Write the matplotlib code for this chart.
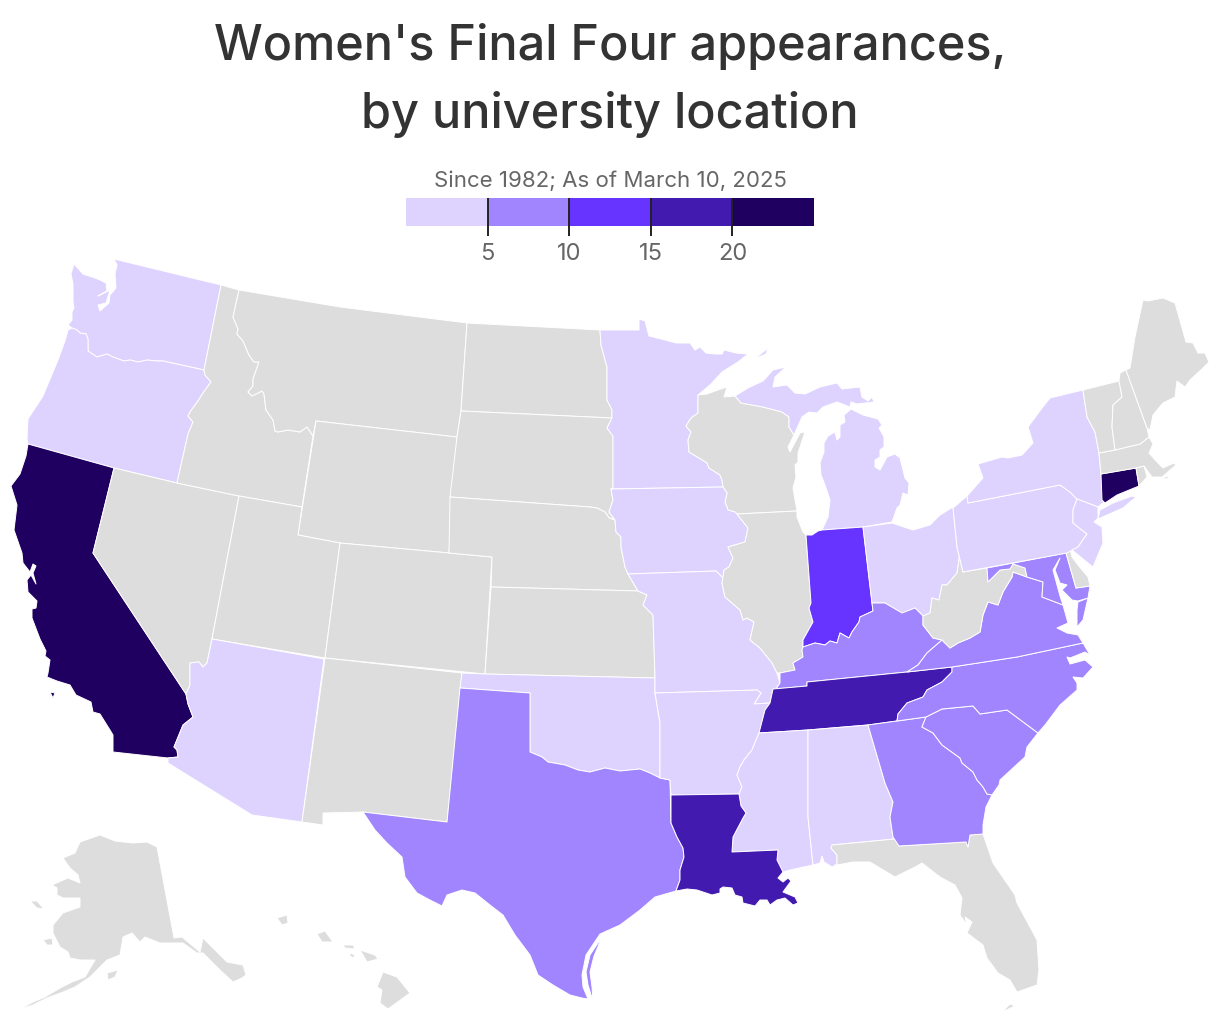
import matplotlib
matplotlib.use("Agg")
import matplotlib.pyplot as plt
from matplotlib.colors import BoundaryNorm, ListedColormap

# appearances by state, values estimated from the colour bins
state_names = ['CA', 'CT', 'TN', 'LA', 'IN', 'TX', 'GA', 'SC', 'NC', 'VA', 'MD', 'KY',
               'WA', 'OR', 'AZ', 'OK', 'AR', 'MO', 'IA', 'MN', 'MI', 'OH', 'PA', 'NY',
               'NJ', 'MS', 'AL']
state_values = [22, 24, 18, 16, 11, 8, 7, 7, 9, 8, 6, 6,
                2, 3, 2, 3, 3, 3, 3, 2, 3, 4, 4, 2,
                4, 3, 3]

legend_bins = [0, 5, 10, 15, 20, 25]
legend_ticks = [5, 10, 15, 20]
colors = ['#ded3ff', '#a185ff', '#6633ff', '#421ab0', '#1f0060']
grey = '#dddddd'

# outlines
WA = [(114,259),(117,265),(115,274),(116,288),(110,295),(109,303),(100,311),(98,305),(106,303),(110,290),(98,296),(107,291),(106,283),(100,280),(95,278),(83,274),(74,264),(71,274),(73,284),(73,302),(74,308),(72,312),(72,320),(68,325),(72,328),(77,330),(80,333),(86,334),(88,339),(88,351),(97,357),(107,354),(113,357),(124,361),(130,360),(138,362),(147,360),(157,361),(163,361),(204,370),(221,285)]
OR = [(72,328),(77,330),(80,333),(86,334),(88,339),(88,351),(97,357),(107,354),(113,357),(124,361),(130,360),(138,362),(147,360),(157,361),(163,361),(204,370),(205,375),(211,382),(203,393),(198,401),(190,412),(188,416),(193,422),(188,434),(177,483),(114,468),(28,444),(27,439),(28,419),(43,396),(58,360),(65,341),(68,330)]
CA = [(28,444),(26,456),(20,474),(11,486),(17,505),(14,530),(22,553),(23,563),(30,572),(33,564),(36,566),(33,573),(36,584),(31,575),(27,580),(28,592),(37,601),(36,608),(32,609),(32,618),(40,639),(46,651),(45,656),(50,660),(48,673),(47,677),(57,681),(70,685),(76,695),(91,702),(93,712),(100,714),(110,730),(113,735),(113,752),(168,758),(178,757),(177,750),(174,747),(183,725),(193,717),(188,704),(186,694),(93,553),(114,468)]
CA_isl = [(50,692),(55,693),(53,698)]
NV = [(114,468),(177,483),(239,496),(212,639),(207,663),(203,667),(199,662),(190,663),(190,685),(186,694),(93,553)]
ID = [(221,285),(239,290),(233,317),(238,329),(237,334),(243,341),(249,355),(254,362),(259,362),(253,379),(253,386),(248,392),(252,396),(262,391),(264,394),(266,410),(273,420),(275,431),(278,432),(288,430),(300,432),(307,427),(313,436),(302,507),(239,496),(177,483),(188,434),(193,422),(188,416),(190,412),(198,401),(203,393),(211,382),(205,375),(204,370)]
MT = [(239,290),(340,307),(467,323),(461,411),(457,437),(316,421),(313,436),(307,427),(300,432),(288,430),(278,432),(275,431),(273,420),(266,410),(264,394),(262,391),(252,396),(248,392),(253,386),(253,379),(259,362),(254,362),(249,355),(243,341),(237,334),(238,329),(233,317)]
WY = [(316,421),(457,437),(449,553),(340,543),(298,535)]
UT = [(239,496),(302,507),(298,535),(340,543),(325,658),(212,639)]
AZ = [(212,639),(324,659),(302,822),(252,815),(168,763),(168,758),(178,757),(177,750),(174,747),(183,725),(193,717),(188,704),(186,694),(190,685),(190,663),(199,662),(203,667),(207,663)]
CO = [(340,543),(449,553),(492,557),(485,674),(325,658)]
NM = [(325,658),(462,673),(447,822),(363,812),(323,813),(323,825),(302,822)]
ND = [(467,323),(600,330),(601,345),(607,367),(607,400),(612,410),(612,418),(461,411)]
SD = [(461,411),(612,418),(607,428),(613,436),(613,488),(611,489),(613,500),(609,512),(614,519),(609,518),(605,512),(597,508),(590,507),(450,497),(457,437)]
NE = [(450,497),(590,507),(597,508),(605,512),(609,518),(615,520),(616,532),(621,537),(621,547),(625,567),(628,574),(638,591),(491,587),(492,557),(449,553)]
KS = [(491,587),(638,591),(647,595),(643,605),(653,615),(655,678),(485,674)]
OK = [(462,673),(485,674),(655,678),(655,693),(660,723),(660,778),(650,773),(640,769),(620,771),(605,768),(590,772),(578,770),(565,765),(548,762),(542,757),(530,752),(530,693),(460,688)]
TX = [(460,688),(530,693),(530,752),(542,757),(548,762),(565,765),(578,770),(590,772),(605,768),(620,771),(640,769),(650,773),(660,778),(670,780),(671,823),(677,837),(683,848),(684,857),(680,870),(680,880),(676,891),(655,897),(640,910),(620,925),(600,934),(586,955),(582,975),(583,987),(588,999),(582,998),(570,995),(553,985),(538,975),(530,955),(515,935),(503,915),(490,905),(475,893),(462,890),(447,895),(442,906),(430,900),(417,893),(405,877),(402,857),(387,843),(375,830),(363,812),(447,822)]
TX_isle = [(593,1001),(588,985),(586,972),(590,955),(602,937),(594,956),(590,972),(592,987)]
MN = [(600,330),(639,330),(639,319),(645,321),(649,336),(665,340),(676,343),(690,343),(695,350),(700,347),(706,353),(715,354),(722,354),(724,350),(736,353),(748,354),(738,362),(722,372),(710,385),(698,395),(698,413),(691,418),(686,426),(691,432),(688,440),(689,452),(699,458),(707,463),(709,468),(720,475),(722,480),(723,487),(611,489),(613,488),(613,436),(607,428),(612,418),(612,410),(607,400),(607,367),(601,345)]
WI = [(698,395),(707,394),(718,390),(727,387),(724,397),(735,396),(741,403),(763,407),(782,412),(789,417),(789,427),(794,435),(788,447),(790,452),(800,433),(805,432),(798,453),(798,462),(795,465),(796,477),(793,488),(797,511),(737,514),(735,512),(728,510),(725,502),(727,493),(723,487),(722,480),(720,475),(709,468),(707,463),(699,458),(689,452),(688,440),(691,432),(686,426),(691,418),(698,413)]
MI_up = [(735,396),(748,388),(763,381),(773,370),(786,367),(775,377),(773,387),(787,385),(795,393),(805,394),(820,387),(837,383),(842,389),(860,387),(862,397),(868,401),(872,397),(874,402),(857,404),(851,402),(850,407),(837,402),(823,407),(817,413),(809,412),(802,417),(794,435),(789,427),(789,417),(782,412),(763,407),(741,403)]
MI_lp = [(851,409),(863,415),(878,419),(882,425),(879,428),(884,437),(884,447),(880,450),(880,457),(875,460),(875,467),(880,470),(887,457),(895,454),(900,458),(905,478),(909,483),(908,495),(903,493),(900,505),(897,508),(892,522),(863,527),(822,530),(828,517),(830,500),(825,485),(821,475),(820,463),(824,452),(824,443),(828,436),(835,432),(837,440),(840,437),(840,425),(845,422),(844,415)]
MI_isl = [(757,357),(768,348),(766,354),(757,358)]
IA = [(611,489),(723,487),(727,493),(725,502),(728,510),(735,512),(737,514),(748,528),(745,542),(728,547),(733,558),(729,567),(724,570),(723,578),(716,571),(628,574),(625,567),(621,547),(621,537),(616,532),(615,520),(609,512),(613,500)]
MO = [(628,574),(716,571),(723,578),(722,583),(725,597),(740,610),(743,620),(747,618),(754,622),(750,640),(760,648),(772,663),(777,673),(780,683),(776,689),(773,689),(770,703),(754,704),(761,693),(757,690),(655,693),(655,678),(653,615),(643,605),(647,595),(638,591)]
AR = [(655,693),(757,690),(761,693),(754,704),(770,703),(765,710),(760,730),(759,733),(752,750),(744,760),(740,767),(737,775),(742,787),(739,794),(671,795),(670,780),(660,778),(660,723)]
IL = [(737,514),(797,511),(797,517),(803,532),(806,535),(811,603),(809,608),(813,622),(803,640),(803,650),(802,650),(803,657),(793,663),(795,670),(780,673),(777,673),(772,663),(760,648),(750,640),(754,622),(747,618),(743,620),(740,610),(725,597),(722,583),(724,570),(729,567),(733,558),(728,547),(745,542),(748,528)]
IN = [(822,530),(863,527),(872,603),(873,611),(860,617),(859,622),(852,632),(849,638),(840,633),(837,643),(830,641),(825,645),(815,643),(803,647),(803,640),(813,622),(809,608),(811,603),(806,535),(812,535),(818,531)]
OH = [(863,527),(892,523),(913,530),(930,525),(940,515),(953,507),(957,547),(960,553),(957,573),(947,585),(942,585),(939,600),(932,598),(930,613),(923,616),(915,608),(902,613),(885,603),(872,603)]
KY = [(803,647),(815,643),(825,645),(830,641),(837,643),(840,633),(849,638),(852,632),(859,622),(860,617),(873,611),(872,603),(885,603),(902,613),(915,608),(923,616),(923,625),(933,638),(942,640),(927,653),(918,665),(907,672),(807,682),(807,686),(776,689),(780,683),(780,673),(795,670),(793,663),(803,657),(802,650)]
TN = [(952,667),(952,672),(942,682),(927,690),(923,697),(907,703),(898,714),(897,721),(868,725),(808,730),(759,733),(765,710),(770,703),(773,689),(807,686),(807,682),(907,672)]
MS = [(759,733),(808,730),(808,817),(813,865),(790,870),(783,872),(777,860),(778,850),(732,852),(733,837),(743,818),(746,813),(741,806),(739,794),(742,787),(737,775),(740,767),(744,760),(752,750)]
LA = [(671,795),(739,794),(741,806),(746,813),(743,818),(733,837),(732,852),(778,850),(777,860),(783,872),(778,878),(783,882),(788,878),(791,881),(783,892),(795,897),(798,903),(793,905),(785,898),(777,900),(770,905),(767,900),(760,900),(755,906),(743,903),(742,897),(735,895),(732,888),(723,887),(720,889),(720,893),(712,895),(697,890),(687,889),(676,891),(680,880),(680,870),(684,857),(683,848),(677,837),(671,823)]
AL = [(808,730),(868,725),(885,783),(893,802),(890,817),(893,837),(895,839),(832,845),(831,848),(837,855),(837,864),(832,867),(824,862),(822,856),(820,863),(813,865),(808,817)]
FL = [(832,845),(895,839),(899,846),(966,842),(968,847),(970,835),(983,834),(993,863),(1015,895),(1017,903),(1037,940),(1039,970),(1037,985),(1017,992),(1010,980),(998,973),(987,958),(983,945),(967,933),(972,922),(965,917),(967,925),(960,915),(962,898),(955,885),(940,877),(922,863),(915,867),(895,877),(870,862),(853,862),(837,865),(837,855),(831,848)]
FL_keys = [(1002,1012),(1010,1004),(1015,1006)]
GA = [(868,725),(897,721),(926,717),(922,727),(933,733),(942,745),(960,758),(962,763),(973,772),(977,780),(983,787),(987,794),(992,795),(986,807),(983,825),(983,834),(970,835),(968,847),(966,842),(899,846),(893,837),(890,817),(893,802),(885,783)]
SC = [(926,717),(942,709),(973,706),(980,714),(1007,710),(1038,733),(1027,747),(1025,757),(1013,768),(1000,780),(999,785),(992,795),(987,794),(983,787),(977,780),(973,772),(962,763),(960,758),(942,745),(933,733),(922,727)]
NC = [(897,721),(898,714),(907,703),(923,697),(927,690),(942,682),(952,672),(952,667),(1017,657),(1083,643),(1090,655),(1085,652),(1070,658),(1067,657),(1070,664),(1085,660),(1093,667),(1083,678),(1073,677),(1077,683),(1077,690),(1060,705),(1045,725),(1038,733),(1007,710),(980,714),(973,706),(942,709),(926,717)]
VA = [(907,672),(918,665),(927,653),(942,640),(950,648),(958,643),(970,638),(980,632),(983,615),(988,602),(998,605),(1003,592),(1012,577),(1013,572),(1027,577),(1043,582),(1042,597),(1050,600),(1063,605),(1068,623),(1057,628),(1067,633),(1078,635),(1083,643),(1017,657),(952,667)]
VA_shore = [(1078,602),(1088,598),(1083,620),(1077,627),(1077,610)]
WV = [(963,572),(987,568),(988,582),(1000,570),(1010,569),(1013,564),(1025,568),(1027,577),(1013,572),(1012,577),(1003,592),(998,605),(988,602),(983,615),(980,632),(970,638),(958,643),(950,648),(942,640),(933,638),(923,625),(923,616),(930,613),(932,598),(939,600),(942,585),(947,585),(957,573),(960,553),(957,547)]
MD = [(987,568),(1066,553),(1076,588),(1090,586),(1088,598),(1078,601),(1072,600),(1062,590),(1067,585),(1060,583),(1055,570),(1060,558),(1053,570),(1057,585),(1060,596),(1063,605),(1050,600),(1042,597),(1043,582),(1027,577),(1025,568),(1013,564),(1010,569),(1000,570),(988,582)]
DE = [(1066,553),(1070,548),(1072,557),(1078,565),(1088,577),(1090,586),(1076,588)]
PA = [(953,508),(967,496),(968,503),(1060,485),(1070,492),(1077,499),(1073,510),(1073,523),(1087,534),(1078,547),(1067,553),(963,572),(957,547)]
NY = [(968,503),(1060,485),(1070,492),(1077,499),(1098,507),(1103,503),(1105,500),(1101,475),(1099,453),(1095,432),(1087,417),(1083,390),(1050,398),(1042,408),(1028,427),(1033,443),(1022,455),(1008,458),(1002,457),(978,464),(983,478),(967,496)]
NY_li = [(1100,510),(1113,503),(1132,496),(1136,497),(1123,508),(1098,519)]
NJ = [(1077,499),(1098,507),(1098,518),(1094,522),(1102,527),(1103,543),(1093,567),(1088,563),(1072,550),(1078,547),(1087,534),(1073,523),(1073,510)]
CT = [(1101,474),(1136,468),(1139,486),(1117,495),(1105,503),(1102,500)]
RI = [(1136,468),(1144,466),(1147,477),(1139,486)]
MA = [(1099,453),(1115,450),(1140,444),(1149,437),(1153,444),(1149,453),(1157,462),(1163,468),(1174,463),(1176,465),(1162,477),(1152,477),(1144,466),(1136,468),(1101,474)]
MA_isl = [(1162,478),(1168,476),(1168,479)]
VT = [(1083,390),(1119,381),(1122,397),(1113,405),(1112,427),(1115,450),(1099,453),(1095,432),(1087,417)]
NH = [(1119,381),(1120,373),(1126,370),(1147,428),(1149,437),(1140,444),(1115,450),(1112,427),(1113,405),(1122,397)]
ME = [(1126,370),(1130,368),(1135,337),(1143,300),(1148,301),(1163,298),(1175,303),(1186,342),(1193,343),(1198,353),(1205,353),(1209,362),(1203,368),(1190,380),(1185,387),(1177,381),(1175,397),(1163,403),(1153,415),(1150,430),(1147,428)]
AK = [(157,847),(174,938),(182,937),(200,952),(203,938),(227,962),(243,965),(246,975),(242,978),(233,982),(220,970),(203,953),(197,953),(183,943),(160,943),(145,937),(140,942),(132,933),(123,937),(120,955),(107,960),(90,977),(75,987),(63,992),(47,998),(33,1005),(20,1009),(33,1002),(45,997),(60,988),(72,982),(85,977),(95,960),(80,960),(70,958),(68,952),(60,947),(53,933),(53,925),(63,913),(80,907),(80,898),(63,898),(57,895),(57,888),(52,885),(68,878),(80,883),(78,875),(70,868),(63,858),(75,853),(80,842),(100,835),(115,841),(133,843),(147,842)]
AK_kodiak = [(107,973),(118,970),(115,977),(108,980)]
AK_lawrence = [(30,901),(37,901),(44,909),(37,908)]
AK_nunivak = [(43,940),(52,938),(53,945),(47,945)]
HI_big = [(383,972),(397,977),(410,993),(388,1009),(380,1003),(382,990),(377,987)]
HI_maui = [(360,950),(375,955),(378,959),(367,962),(363,955)]
HI_molokai = [(343,945),(353,945),(355,949),(345,948)]
HI_lanai = [(350,953),(355,955),(353,958),(350,956)]
HI_oahu = [(317,934),(325,931),(333,942),(322,942)]
HI_kauai = [(277,918),(287,915),(288,923),(282,925)]

shapes = {'WA': [WA], 'OR': [OR], 'CA': [CA, CA_isl], 'NV': [NV], 'ID': [ID], 'MT': [MT], 'WY': [WY],
          'UT': [UT], 'AZ': [AZ], 'CO': [CO], 'NM': [NM], 'ND': [ND], 'SD': [SD], 'NE': [NE], 'KS': [KS],
          'OK': [OK], 'TX': [TX, TX_isle], 'MN': [MN], 'WI': [WI], 'MI': [MI_up, MI_lp, MI_isl], 'IA': [IA], 'MO': [MO],
          'AR': [AR], 'IL': [IL], 'IN': [IN], 'OH': [OH], 'KY': [KY], 'TN': [TN], 'MS': [MS], 'LA': [LA],
          'AL': [AL], 'FL': [FL, FL_keys], 'GA': [GA], 'SC': [SC], 'NC': [NC], 'VA': [VA, VA_shore], 'WV': [WV],
          'MD': [MD], 'DE': [DE], 'PA': [PA], 'NY': [NY, NY_li], 'NJ': [NJ], 'CT': [CT], 'RI': [RI],
          'MA': [MA, MA_isl], 'VT': [VT], 'NH': [NH], 'ME': [ME],
          'AK': [AK, AK_kodiak, AK_lawrence, AK_nunivak],
          'HI': [HI_big, HI_maui, HI_molokai, HI_lanai, HI_oahu, HI_kauai]}

cmap = ListedColormap(colors)
norm = BoundaryNorm(legend_bins, cmap.N)
values = dict(zip(state_names, state_values))

fig = plt.figure(figsize=(12.2, 10.22), dpi=100)
ax = fig.add_axes([0, 0, 1, 1])
ax.set_xlim(0, 1220)
ax.set_ylim(1022, 0)
ax.axis('off')

for name, polys in shapes.items():
    color = cmap(norm(values[name])) if name in values else grey
    for poly in polys:
        xs = [p[0] for p in poly]
        ys = [p[1] for p in poly]
        ax.fill(xs, ys, facecolor=color, edgecolor='white', linewidth=0.7, joinstyle='round')

title_font = ['Inter', 'DejaVu Sans']
ax.text(610, 47, "Women's Final Four appearances,", ha='center', va='center', fontsize=35,
        color='#333333', family=title_font, fontweight='medium')
ax.text(610, 114, "by university location", ha='center', va='center', fontsize=35,
        color='#333333', family=title_font, fontweight='medium')
ax.text(610, 181, "Since 1982; As of March 10, 2025", ha='center', va='center', fontsize=16,
        color='#666666', family=title_font)

# legend strip
leg = fig.add_axes([406 / 1220, 1 - 226 / 1022, 408 / 1220, 28 / 1022])
for i, c in enumerate(colors):
    leg.barh(0, legend_bins[i + 1] - legend_bins[i], left=legend_bins[i], height=1, color=c)
leg.set_xlim(0, 25)
leg.set_ylim(-0.5, 0.5)
leg.set_yticks([])
leg.set_xticks(legend_ticks)
leg.set_xticklabels([str(t) for t in legend_ticks], family=title_font, fontsize=17, color='#666666')
leg.tick_params(axis='x', length=7, width=1.4, color='#222222', pad=5, direction='out')
for t in legend_ticks:
    leg.axvline(t, color='#222222', lw=1.4)
for s in leg.spines.values():
    s.set_visible(False)

fig.savefig('out.png', dpi=100)
